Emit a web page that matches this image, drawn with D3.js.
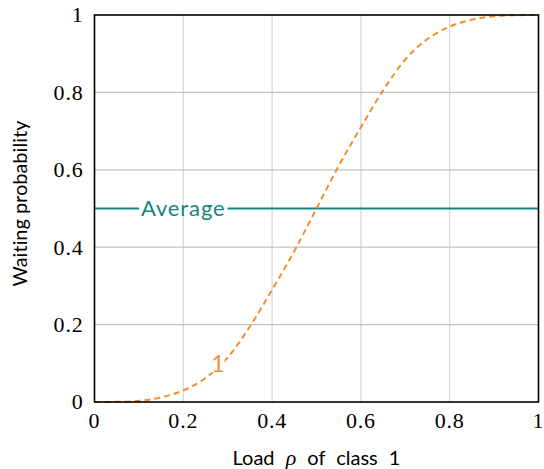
<!DOCTYPE html>
<html><head><meta charset="utf-8">
<script src="https://cdn.jsdelivr.net/npm/d3@7"></script>
<style>body{margin:0;background:#fff}</style>
</head><body>
<svg id="c" width="544" height="469"></svg>
<script>
const rho = [0,0.05,0.1,0.15,0.2,0.25,0.3,0.35,0.4,0.45,0.5,0.55,0.6,0.65,0.7,0.75,0.8,0.85,0.9,0.95,1];
const waitProb = [0,0.0005,0.003,0.012,0.03,0.062,0.115,0.195,0.29,0.39,0.5,0.61,0.71,0.805,0.885,0.938,0.97,0.988,0.997,0.9995,1];
const averageValue = [0.5, 0.5];
const averageX = [0, 1];
const xTicks = [0,0.2,0.4,0.6,0.8,1];
const yTicks = [0,0.2,0.4,0.6,0.8,1];
const xTickLabels = ["0","0.2","0.4","0.6","0.8","1"];
const yTickLabels = ["0","0.2","0.4","0.6","0.8","1"];

const svg = d3.select("#c");
const L=94.5, R=538.5, T=15, B=402;
const x = d3.scaleLinear().domain([0,1]).range([L,R]);
const y = d3.scaleLinear().domain([0,1]).range([B,T]);
const orange="#f68d2e", teal="#13857e";
const SANS="Lato, 'Open Sans', sans-serif";
const SERIF="'Liberation Serif', 'DejaVu Serif', serif";

// grid
svg.append("g").selectAll("line").data(xTicks.slice(1,-1)).join("line")
  .attr("x1",d=>x(d)).attr("x2",d=>x(d)).attr("y1",T).attr("y2",B)
  .attr("stroke","#d6d6d6").attr("stroke-width",1.2);
svg.append("g").selectAll("line").data(yTicks.slice(1,-1)).join("line")
  .attr("y1",d=>y(d)).attr("y2",d=>y(d)).attr("x1",L).attr("x2",R)
  .attr("stroke","#c4c4c4").attr("stroke-width",1.2);

// average line
svg.append("path").datum(averageX.map((v,i)=>[v,averageValue[i]]))
  .attr("d",d3.line().x(d=>x(d[0])).y(d=>y(d[1])))
  .attr("stroke",teal).attr("stroke-width",2).attr("fill","none");

// curve
svg.append("path").datum(rho.map((v,i)=>[v,waitProb[i]]))
  .attr("d",d3.line().curve(d3.curveMonotoneX).x(d=>x(d[0])).y(d=>y(d[1])))
  .attr("stroke",orange).attr("stroke-width",2).attr("fill","none")
  .attr("stroke-dasharray","6,4");

// labels on lines (with white knock-out)
const avgLbl = svg.append("text").attr("x",x(0.2)).attr("y",y(0.5)).attr("dy","0.36em")
  .attr("text-anchor","middle").style("font-family",SANS)
  .style("font-size","22px").style("letter-spacing","0.9px").attr("fill",teal).text("Average");
const bb = avgLbl.node().getBBox();
svg.insert("rect",()=>avgLbl.node()).attr("x",bb.x-2).attr("y",y(0.5)-4).attr("width",bb.width+4).attr("height",8).attr("fill","#fff");

const lbl1 = svg.append("text").attr("x",x(0.278)).attr("y",y(0.098)).attr("dy","0.36em")
  .attr("text-anchor","middle").style("font-family",SANS)
  .style("font-size","23px").attr("fill",orange).text("1");
const b1 = lbl1.node().getBBox();
svg.insert("rect",()=>lbl1.node()).attr("x",b1.x).attr("y",b1.y+4).attr("width",b1.width).attr("height",b1.height-9).attr("fill","#fff");

// frame
svg.append("rect").attr("x",L).attr("y",T).attr("width",R-L).attr("height",B-T)
  .attr("fill","none").attr("stroke","#000").attr("stroke-width",1.6);

// tick labels
svg.append("g").selectAll("text").data(xTicks).join("text")
  .attr("x",d=>x(d)).attr("y",B+26).attr("text-anchor","middle")
  .style("font-family",SERIF).style("font-size","22px").style("letter-spacing","0.8px")
  .text((d,i)=>xTickLabels[i]);
svg.append("g").selectAll("text").data(yTicks).join("text")
  .attr("x",L-11).attr("y",d=>y(d)).attr("dy","0.34em").attr("text-anchor","end")
  .style("font-family",SERIF).style("font-size","22px").style("letter-spacing","0.8px")
  .text((d,i)=>yTickLabels[i]);

// axis titles
const xt = svg.append("text").attr("x",(L+R)/2).attr("y",465).attr("text-anchor","middle")
  .style("font-family",SANS).style("font-size","20px").style("word-spacing","6px");
xt.append("tspan").text("Load ");
xt.append("tspan").style("font-family",SERIF).style("font-style","italic").style("font-size","22px").text("ρ");
xt.append("tspan").text(" of class 1");
svg.append("text").attr("transform",`translate(27,${(112+295)/2}) rotate(-90)`)
  .attr("text-anchor","middle").style("font-family",SANS)
  .style("font-size","19.5px").style("letter-spacing","0.2px").text("Waiting probability");
</script>
</body></html>
